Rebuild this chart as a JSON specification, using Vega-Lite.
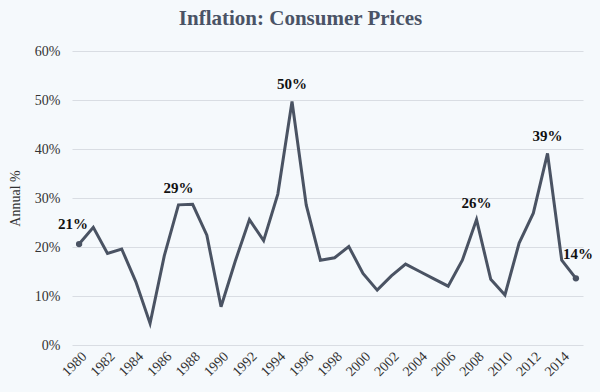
{
  "$schema": "https://vega.github.io/schema/vega-lite/v6.json",
  "width": 511,
  "height": 294,
  "autosize": {"type": "none"},
  "padding": {"left": 72, "top": 51, "right": 17, "bottom": 47},
  "background": "#f5f9fc",
  "title": {
    "text": "Inflation:  Consumer Prices",
    "font": "Liberation Serif",
    "fontSize": 21,
    "fontWeight": "bold",
    "color": "#4a5366",
    "anchor": "middle",
    "dx": -27,
    "offset": 15
  },
  "data": {
    "values": [
      {"year": 1980, "inflation": 0.206},
      {"year": 1981, "inflation": 0.240},
      {"year": 1982, "inflation": 0.187},
      {"year": 1983, "inflation": 0.196},
      {"year": 1984, "inflation": 0.129},
      {"year": 1985, "inflation": 0.044},
      {"year": 1986, "inflation": 0.182},
      {"year": 1987, "inflation": 0.286},
      {"year": 1988, "inflation": 0.287},
      {"year": 1989, "inflation": 0.224},
      {"year": 1990, "inflation": 0.078},
      {"year": 1991, "inflation": 0.171},
      {"year": 1992, "inflation": 0.256},
      {"year": 1993, "inflation": 0.213},
      {"year": 1994, "inflation": 0.308},
      {"year": 1995, "inflation": 0.497},
      {"year": 1996, "inflation": 0.286},
      {"year": 1997, "inflation": 0.173},
      {"year": 1998, "inflation": 0.178},
      {"year": 1999, "inflation": 0.201},
      {"year": 2000, "inflation": 0.146},
      {"year": 2001, "inflation": 0.112},
      {"year": 2002, "inflation": 0.141},
      {"year": 2003, "inflation": 0.165},
      {"year": 2004, "inflation": 0.150},
      {"year": 2005, "inflation": 0.135},
      {"year": 2006, "inflation": 0.120},
      {"year": 2007, "inflation": 0.173},
      {"year": 2008, "inflation": 0.256},
      {"year": 2009, "inflation": 0.134},
      {"year": 2010, "inflation": 0.102},
      {"year": 2011, "inflation": 0.208},
      {"year": 2012, "inflation": 0.269},
      {"year": 2013, "inflation": 0.391},
      {"year": 2014, "inflation": 0.173},
      {"year": 2015, "inflation": 0.136}
    ]
  },
  "encoding": {
    "x": {
      "field": "year",
      "type": "quantitative",
      "scale": {"domain": [1979.5, 2015.5], "nice": false, "zero": false},
      "axis": {
        "values": [1980, 1982, 1984, 1986, 1988, 1990, 1992, 1994, 1996, 1998, 2000, 2002, 2004, 2006, 2008, 2010, 2012, 2014],
        "format": "d",
        "labelAngle": -45,
        "labelFont": "Liberation Serif",
        "labelFontSize": 14,
        "labelColor": "#333333",
        "labelPadding": 4,
        "labelOverlap": false,
        "labelBound": false,
        "ticks": false,
        "domain": false,
        "grid": false,
        "title": null
      }
    },
    "y": {
      "field": "inflation",
      "type": "quantitative",
      "scale": {"domain": [0, 0.6], "nice": false},
      "axis": {
        "values": [0, 0.1, 0.2, 0.3, 0.4, 0.5, 0.6],
        "format": ".0%",
        "labelFont": "Liberation Serif",
        "labelFontSize": 14,
        "labelColor": "#333333",
        "labelPadding": 12,
        "labelOverlap": false,
        "ticks": false,
        "domain": false,
        "grid": true,
        "gridColor": "#d9dde3",
        "gridWidth": 1,
        "title": "Annual %",
        "titleFont": "Liberation Serif",
        "titleFontSize": 14,
        "titleFontWeight": "normal",
        "titleColor": "#333333",
        "titlePadding": 12
      }
    }
  },
  "layer": [
    {
      "mark": {"type": "line", "color": "#4a5363", "strokeWidth": 3}
    },
    {
      "transform": [{"filter": "datum.year == 1980 || datum.year == 2015"}],
      "mark": {"type": "circle", "color": "#4a5363", "size": 40, "opacity": 1}
    },
    {
      "transform": [{"filter": "datum.year == 1987 || datum.year == 1995 || datum.year == 2008 || datum.year == 2013"}],
      "mark": {"type": "text", "font": "Liberation Serif", "fontSize": 15, "fontWeight": "bold", "color": "#111111", "dy": -17, "baseline": "middle"},
      "encoding": {"text": {"field": "inflation", "type": "quantitative", "format": ".0%"}}
    },
    {
      "transform": [{"filter": "datum.year == 1980"}],
      "mark": {"type": "text", "font": "Liberation Serif", "fontSize": 15, "fontWeight": "bold", "color": "#111111", "dx": -6, "dy": -20, "baseline": "middle"},
      "encoding": {"text": {"field": "inflation", "type": "quantitative", "format": ".0%"}}
    },
    {
      "transform": [{"filter": "datum.year == 2015"}],
      "mark": {"type": "text", "font": "Liberation Serif", "fontSize": 15, "fontWeight": "bold", "color": "#111111", "dx": 2, "dy": -24, "baseline": "middle"},
      "encoding": {"text": {"field": "inflation", "type": "quantitative", "format": ".0%"}}
    }
  ],
  "config": {
    "view": {"stroke": null}
  }
}
